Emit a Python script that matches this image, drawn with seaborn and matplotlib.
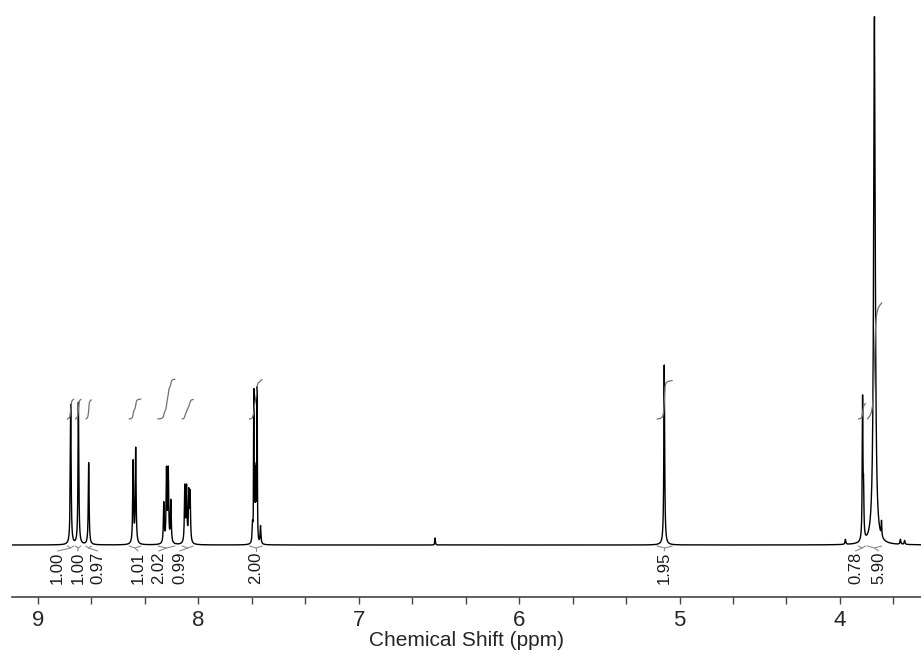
import numpy as np
import pandas as pd
import matplotlib
matplotlib.use("Agg")
import matplotlib.pyplot as plt
from matplotlib.ticker import MultipleLocator
import seaborn as sns

# peak list (ppm, height above baseline, half width in ppm)
peak_ppm = [8.794, 8.746, 8.682, 8.405, 8.389,
            8.214, 8.197, 8.186, 8.170,
            8.083, 8.072, 8.058, 8.050,
            7.661, 7.653, 7.647, 7.642, 7.637, 7.632, 7.611,
            6.523, 5.095, 3.966, 3.859, 3.853, 3.785, 3.741, 3.623, 3.597]
peak_height = [140, 142, 82, 82, 95,
               40, 72, 72, 42,
               56, 54, 48, 48,
               18, 148, 62, 62, 62, 150, 18,
               7, 180, 5, 140, 45, 528, 15, 5, 4]
peak_width = [0.003, 0.003, 0.003, 0.003, 0.003,
              0.003, 0.003, 0.003, 0.003,
              0.003, 0.003, 0.003, 0.003,
              0.003, 0.0015, 0.0015, 0.0015, 0.0015, 0.0015, 0.003,
              0.002, 0.003, 0.003, 0.0025, 0.0025, 0.006, 0.002, 0.003, 0.003]

# integral regions and values
int_start = [8.815, 8.765, 8.700, 8.430, 8.251, 8.100, 7.680, 5.140, 3.885, 3.830]
int_end = [8.775, 8.730, 8.665, 8.357, 8.145, 8.030, 7.600, 5.045, 3.840, 3.740]
int_value = [1.00, 1.00, 0.97, 1.01, 2.02, 0.99, 2.00, 1.95, 0.78, 5.90]
label_ppm = [8.875, 8.750, 8.626, 8.376, 8.245, 8.114, 7.640, 5.095, 3.903, 3.760]

major_ticks = [9, 8, 7, 6, 5, 4]
tick_labels = ["9", "8", "7", "6", "5", "4"]

sns.set_style("white")
plt.rcParams["font.family"] = ["Liberation Sans", "DejaVu Sans"]

ppm = np.linspace(3.49, 9.17, 80000)
intensity = np.zeros_like(ppm)
for p, h, w in zip(peak_ppm, peak_height, peak_width):
    intensity += h * w**2 / ((ppm - p)**2 + w**2)
spec = pd.DataFrame({"ppm": ppm, "intensity": intensity})

fig = plt.figure(figsize=(9.21, 6.55), dpi=100)
ax = fig.add_axes([12 / 921, 58 / 655, 1 - 12 / 921, 597 / 655])

sns.lineplot(data=spec, x="ppm", y="intensity", color="black", linewidth=1.0,
             estimator=None, sort=False, ax=ax)

# integral curves + labels
scale = 19.7
for hi, lo, val, lx in zip(int_start, int_end, int_value, label_ppm):
    seg = spec[(spec.ppm <= hi) & (spec.ppm >= lo)].sort_values("ppm", ascending=False)
    cum = seg.intensity.cumsum()
    cum = cum / cum.iloc[-1] * val * scale
    sns.lineplot(x=seg.ppm.values, y=126 + cum.values, color="#707070", linewidth=0.9,
                 estimator=None, sort=False, ax=ax)
    mid = (hi + lo) / 2
    ax.plot([hi, mid, lo], [-1, -3, -1], color="#8a8a8a", linewidth=0.8)
    ax.plot([mid, lx], [-3, -6], color="#8a8a8a", linewidth=0.8)
    ax.text(lx, -7, f"{val:.2f}", rotation=90, ha="center", va="top",
            fontsize=12, color="#1a1a1a")

ax.set_xlim(9.16, 3.495)
ax.set_ylim(-52, 545)
ax.set_xticks(major_ticks)
ax.set_xticklabels(tick_labels, fontsize=16)
ax.xaxis.set_minor_locator(MultipleLocator(1 / 3))
ax.tick_params(axis="x", which="both", direction="out", length=5, width=1,
               color="#444444", bottom=True, pad=4)
ax.set_yticks([])
ax.set_ylabel("")
ax.set_xlabel("Chemical Shift (ppm)", fontsize=15, labelpad=0)
for s in ["top", "left", "right"]:
    ax.spines[s].set_visible(False)
ax.spines["bottom"].set_color("#444444")
ax.spines["bottom"].set_linewidth(1.2)

fig.savefig("out.png", dpi=100)
